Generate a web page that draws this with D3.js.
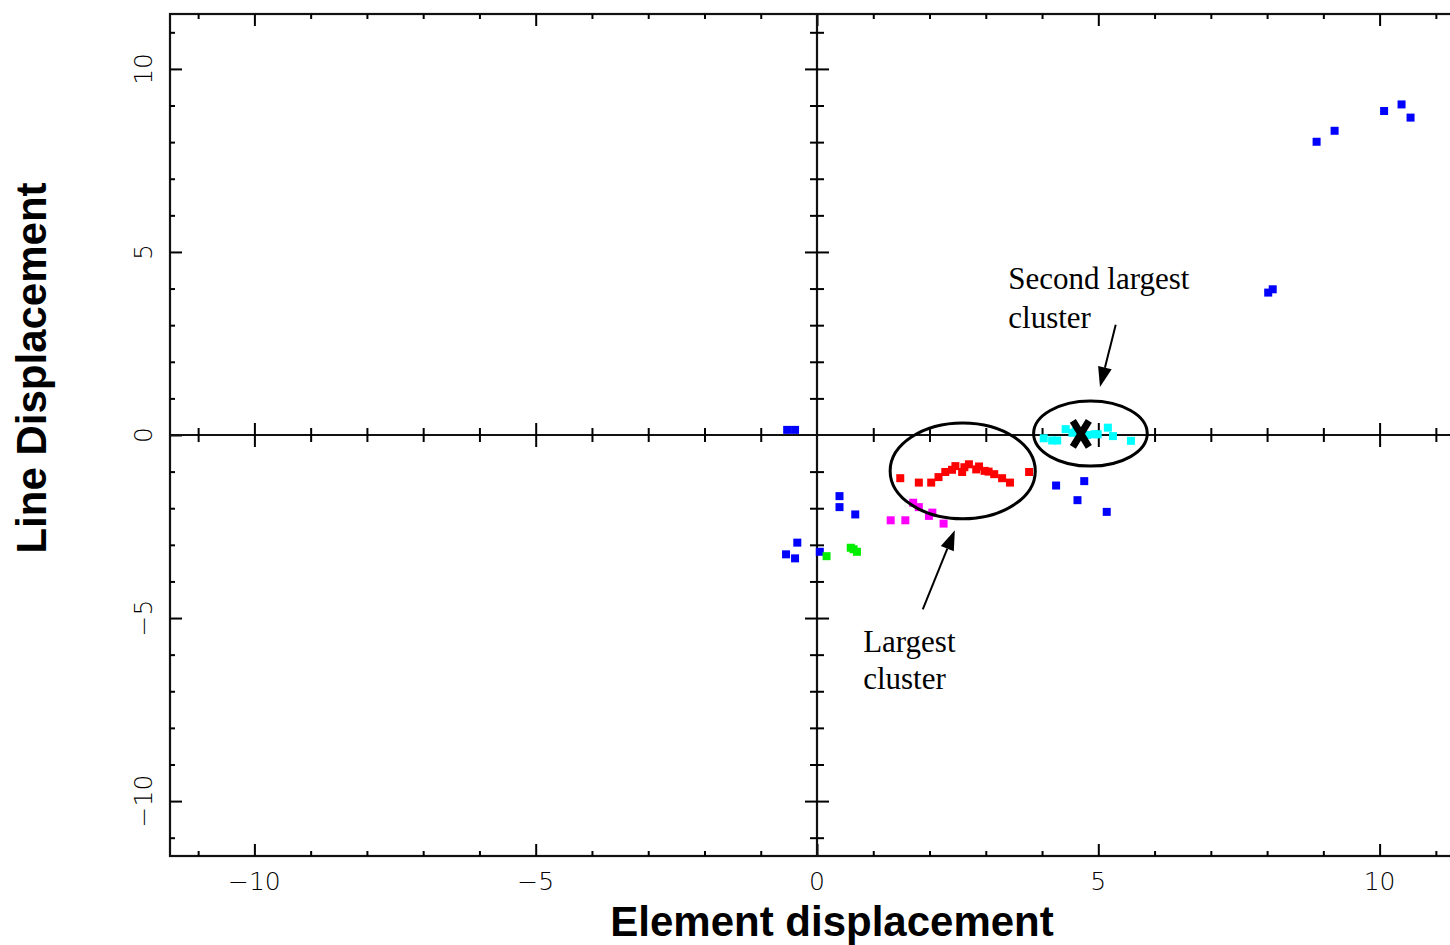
<!DOCTYPE html>
<html>
<head>
<meta charset="utf-8">
<script src="https://cdn.jsdelivr.net/npm/d3@7"></script>
<style>
  html, body { margin: 0; padding: 0; background: #fff; overflow: hidden; }
  svg { display: block; }
</style>
</head>
<body>
<svg id="chart" width="1450" height="945"></svg>
<script>
// ---------------- data ----------------
const xDomain = [-11.5, 11.5];
const yDomain = [-11.5, 11.5];
const majorTicks = [-10, -5, 0, 5, 10];
const minorTicks = [-11, -9, -8, -7, -6, -4, -3, -2, -1, 1, 2, 3, 4, 6, 7, 8, 9, 11];
const xTickLabels = ["\u221210", "\u22125", "0", "5", "10"];
const yTickLabels = ["\u221210", "\u22125", "0", "5", "10"];

const bluePoints = [
  [-0.53, 0.14], [-0.39, 0.14],
  [0.40, -1.67], [0.40, -1.97], [0.68, -2.17],
  [-0.35, -2.94], [-0.55, -3.26], [-0.39, -3.37], [0.05, -3.19],
  [4.25, -1.38], [4.75, -1.26], [4.63, -1.78], [5.15, -2.10],
  [8.02, 3.89], [8.10, 3.98],
  [8.88, 8.01], [9.20, 8.31], [10.08, 8.85], [10.39, 9.03], [10.55, 8.67]
];
const redPoints = [
  [1.48, -1.18], [1.81, -1.30], [2.03, -1.30], [2.16, -1.15], [2.28, -1.01],
  [2.40, -0.95], [2.46, -0.85], [2.58, -1.01], [2.62, -0.88], [2.70, -0.80],
  [2.83, -0.94], [2.88, -0.86], [2.98, -0.98], [3.05, -1.00], [3.15, -1.07],
  [3.29, -1.18], [3.43, -1.30], [3.77, -1.01]
];
const magentaPoints = [
  [1.31, -2.33], [1.57, -2.33], [1.71, -1.85], [1.81, -1.97],
  [1.99, -2.21], [2.05, -2.12], [2.25, -2.42]
];
const greenPoints = [
  [0.17, -3.31], [0.60, -3.08], [0.65, -3.12], [0.71, -3.19]
];
const cyanPoints = [
  [4.03, -0.09], [4.18, -0.15], [4.27, -0.15], [4.42, 0.16], [4.54, 0.06],
  [4.60, 0.10], [4.80, 0.00], [4.93, 0.02], [4.99, 0.02], [5.17, 0.20],
  [5.26, -0.03], [5.58, -0.16]
];
const centerMark = [4.69, 0.03];

const clusterEllipses = [
  { cx: 2.59, cy: -0.98, rx: 1.29, ry: 1.31 },
  { cx: 4.86, cy: 0.04, rx: 1.01, ry: 0.89 }
];
const arrowLines = [
  { x1: 5.31, y1: 3.01, x2: 5.03, y2: 1.31 },
  { x1: 1.88, y1: -4.76, x2: 2.45, y2: -2.60 }
];
const noteTexts = [
  { x: 3.40, y: 3.99, text: "Second largest" },
  { x: 3.40, y: 2.93, text: "cluster" },
  { x: 0.82, y: -5.92, text: "Largest" },
  { x: 0.82, y: -6.93, text: "cluster" }
];
const xTitle = "Element displacement";
const yTitle = "Line Displacement";

// ---------------- drawing ----------------
(function () {
const svg = d3.select("#chart");
const pLeft = 170, pRight = 1464, pTop = 14, pBottom = 856;

const x = d3.scaleLinear().domain(xDomain).range([pLeft, pRight]);
const y = d3.scaleLinear().domain(yDomain).range([pBottom, pTop]);

const axisStyle = g => {
  g.select(".domain").remove();
  g.selectAll(".tick line").attr("stroke", "#000").attr("stroke-width", 2);
  g.selectAll("text").remove();
};

// frame
svg.append("rect")
  .attr("x", pLeft).attr("y", pTop)
  .attr("width", pRight - pLeft).attr("height", pBottom - pTop)
  .attr("fill", "none").attr("stroke", "#111").attr("stroke-width", 2.2);

// frame ticks (inward)
const frame = svg.append("g");
frame.append("g").attr("transform", `translate(0,${pBottom})`)
  .call(d3.axisBottom(x).tickValues(minorTicks).tickSize(-5)).call(axisStyle);
frame.append("g").attr("transform", `translate(0,${pBottom})`)
  .call(d3.axisBottom(x).tickValues(majorTicks).tickSize(-12)).call(axisStyle);
frame.append("g").attr("transform", `translate(0,${pTop})`)
  .call(d3.axisTop(x).tickValues(minorTicks).tickSize(-5)).call(axisStyle);
frame.append("g").attr("transform", `translate(0,${pTop})`)
  .call(d3.axisTop(x).tickValues(majorTicks).tickSize(-12)).call(axisStyle);
frame.append("g").attr("transform", `translate(${pLeft},0)`)
  .call(d3.axisLeft(y).tickValues(minorTicks).tickSize(-5)).call(axisStyle);
frame.append("g").attr("transform", `translate(${pLeft},0)`)
  .call(d3.axisLeft(y).tickValues(majorTicks).tickSize(-12)).call(axisStyle);

// central cross axes
const cross = svg.append("g");
cross.append("line")
  .attr("x1", pLeft).attr("x2", pRight).attr("y1", y(0)).attr("y2", y(0))
  .attr("stroke", "#111").attr("stroke-width", 2.2);
cross.append("line")
  .attr("x1", x(0)).attr("x2", x(0)).attr("y1", pTop).attr("y2", pBottom)
  .attr("stroke", "#111").attr("stroke-width", 2.2);
[d3.axisBottom, d3.axisTop].forEach(ax => {
  cross.append("g").attr("transform", `translate(0,${y(0)})`)
    .call(ax(x).tickValues(minorTicks).tickSize(7)).call(axisStyle);
  cross.append("g").attr("transform", `translate(0,${y(0)})`)
    .call(ax(x).tickValues(majorTicks.filter(d => d !== 0)).tickSize(12)).call(axisStyle);
});
[d3.axisLeft, d3.axisRight].forEach(ax => {
  cross.append("g").attr("transform", `translate(${x(0)},0)`)
    .call(ax(y).tickValues(minorTicks).tickSize(7)).call(axisStyle);
  cross.append("g").attr("transform", `translate(${x(0)},0)`)
    .call(ax(y).tickValues(majorTicks.filter(d => d !== 0)).tickSize(12)).call(axisStyle);
});

// tick labels
const tickFont = "'DejaVu Sans', sans-serif";
svg.append("g").selectAll("text").data(majorTicks).join("text")
  .attr("x", d => x(d)).attr("y", 890)
  .attr("text-anchor", "middle")
  .attr("font-family", tickFont).attr("font-size", 25).attr("font-weight", 200)
  .attr("fill", "#000")
  .text((d, i) => xTickLabels[i]);
svg.append("g").selectAll("text").data(majorTicks).join("text")
  .attr("transform", d => `translate(152,${y(d)}) rotate(-90)`)
  .attr("text-anchor", "middle")
  .attr("font-family", tickFont).attr("font-size", 25).attr("font-weight", 200)
  .attr("fill", "#000")
  .text((d, i) => yTickLabels[i]);

// axis titles
svg.append("text")
  .attr("x", 832).attr("y", 936)
  .attr("text-anchor", "middle")
  .attr("font-family", "'Liberation Sans', Arial, sans-serif")
  .attr("font-weight", "bold").attr("font-size", 42)
  .text(xTitle);
svg.append("text")
  .attr("transform", "translate(46,368) rotate(-90)")
  .attr("text-anchor", "middle")
  .attr("font-family", "'Liberation Sans', Arial, sans-serif")
  .attr("font-weight", "bold").attr("font-size", 42)
  .text(yTitle);

// points
const sq = 8;
const series = [
  [bluePoints, "#0000ff"],
  [redPoints, "#ff0000"],
  [magentaPoints, "#ff00ff"],
  [greenPoints, "#00ee00"],
  [cyanPoints, "#00ffff"]
];
const pts = svg.append("g");
series.forEach(([data, color]) => {
  pts.append("g").selectAll("rect").data(data).join("rect")
    .attr("x", d => x(d[0]) - sq / 2)
    .attr("y", d => y(d[1]) - sq / 2)
    .attr("width", sq).attr("height", sq)
    .attr("fill", color);
});

// centre X mark
const cm = svg.append("g")
  .attr("transform", `translate(${x(centerMark[0])},${y(centerMark[1])})`);
cm.append("path")
  .attr("d", "M-8,-13 L8,13 M8,-13 L-8,13")
  .attr("stroke", "#000").attr("stroke-width", 7).attr("fill", "none");

// ellipses
svg.append("g").selectAll("ellipse").data(clusterEllipses).join("ellipse")
  .attr("cx", d => x(d.cx)).attr("cy", d => y(d.cy))
  .attr("rx", d => x(d.cx + d.rx) - x(d.cx))
  .attr("ry", d => y(d.cy - d.ry) - y(d.cy))
  .attr("fill", "none").attr("stroke", "#000").attr("stroke-width", 3);

// arrows
const arrows = svg.append("g");
arrowLines.forEach(a => {
  const x1 = x(a.x1), y1 = y(a.y1), x2 = x(a.x2), y2 = y(a.y2);
  const dx = x2 - x1, dy = y2 - y1, len = Math.hypot(dx, dy);
  const ux = dx / len, uy = dy / len;
  const hl = 20, hw = 7;
  const bx = x2 - ux * hl, by = y2 - uy * hl;
  arrows.append("line")
    .attr("x1", x1).attr("y1", y1).attr("x2", bx).attr("y2", by)
    .attr("stroke", "#000").attr("stroke-width", 2);
  arrows.append("path")
    .attr("d", `M${x2},${y2} L${bx - uy * hw},${by + ux * hw} L${bx + uy * hw},${by - ux * hw} Z`)
    .attr("fill", "#000");
});

// annotation texts
svg.append("g").selectAll("text").data(noteTexts).join("text")
  .attr("x", d => x(d.x)).attr("y", d => y(d.y))
  .attr("font-family", "'Liberation Serif', 'Times New Roman', serif")
  .attr("font-size", 31).attr("fill", "#000")
  .text(d => d.text);
})();
</script>
</body>
</html>
